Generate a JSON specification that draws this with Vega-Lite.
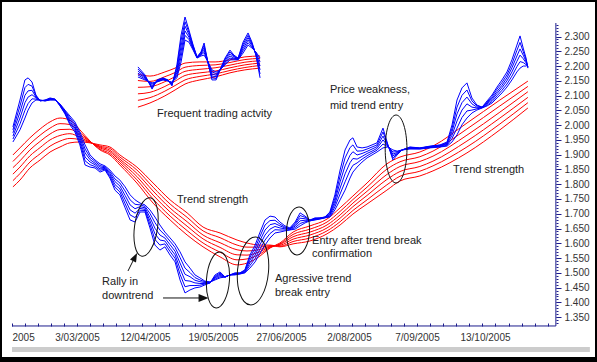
{
"$schema":"https://vega.github.io/schema/vega-lite/v6.json",
"width":593,"height":355,
"autosize":{"type":"none"},
"padding":{"left":2,"top":2,"right":2,"bottom":5},
"background":"#000000",
"config":{"view":{"fill":"#ffffff","stroke":null},"axis":{"labelFont":"Liberation Sans","labelFontSize":10,"labelColor":"#333333","tickColor":"#1c1c8c","grid":false,"domain":false}},
"datasets":{
"blue":[
{"t":1.5,"b1":1.994,"b2":1.984,"b3":1.974,"b4":1.963,"b5":1.953,"b6":1.943},
{"t":4.2,"b1":2.085,"b2":2.065,"b3":2.044,"b4":2.024,"b5":2.004,"b6":1.984},
{"t":6.1,"b1":2.153,"b2":2.127,"b3":2.101,"b4":2.076,"b5":2.050,"b6":2.024},
{"t":7.3,"b1":2.160,"b2":2.138,"b3":2.116,"b4":2.095,"b5":2.073,"b6":2.051},
{"t":8.8,"b1":2.146,"b2":2.132,"b3":2.118,"b4":2.103,"b5":2.089,"b6":2.075},
{"t":10.3,"b1":2.102,"b2":2.099,"b3":2.095,"b4":2.092,"b5":2.088,"b6":2.085},
{"t":11.9,"b1":2.082,"b2":2.082,"b3":2.083,"b4":2.084,"b5":2.084,"b6":2.085},
{"t":13.8,"b1":2.085,"b2":2.084,"b3":2.084,"b4":2.083,"b5":2.082,"b6":2.082},
{"t":15.7,"b1":2.092,"b2":2.090,"b3":2.089,"b4":2.088,"b5":2.086,"b6":2.085},
{"t":17.6,"b1":2.088,"b2":2.088,"b3":2.087,"b4":2.086,"b5":2.086,"b6":2.085},
{"t":19.5,"b1":2.065,"b2":2.066,"b3":2.068,"b4":2.069,"b5":2.070,"b6":2.072},
{"t":21.4,"b1":2.038,"b2":2.040,"b3":2.043,"b4":2.046,"b5":2.048,"b6":2.051},
{"t":23.3,"b1":2.001,"b2":2.007,"b3":2.013,"b4":2.019,"b5":2.025,"b6":2.031},
{"t":25.2,"b1":1.977,"b2":1.984,"b3":1.990,"b4":1.997,"b5":2.004,"b6":2.011},
{"t":27.1,"b1":1.933,"b2":1.942,"b3":1.950,"b4":1.959,"b5":1.968,"b6":1.977},
{"t":29.1,"b1":1.865,"b2":1.879,"b3":1.892,"b4":1.906,"b5":1.919,"b6":1.933},
{"t":31.0,"b1":1.858,"b2":1.866,"b3":1.875,"b4":1.883,"b5":1.891,"b6":1.899},
{"t":32.9,"b1":1.855,"b2":1.860,"b3":1.866,"b4":1.871,"b5":1.877,"b6":1.882},
{"t":34.8,"b1":1.841,"b2":1.847,"b3":1.852,"b4":1.858,"b5":1.863,"b6":1.869},
{"t":36.7,"b1":1.848,"b2":1.851,"b3":1.853,"b4":1.856,"b5":1.859,"b6":1.862},
{"t":38.6,"b1":1.821,"b2":1.826,"b3":1.832,"b4":1.837,"b5":1.843,"b6":1.848},
{"t":40.5,"b1":1.780,"b2":1.790,"b3":1.799,"b4":1.809,"b5":1.818,"b6":1.828},
{"t":42.4,"b1":1.764,"b2":1.774,"b3":1.784,"b4":1.794,"b5":1.804,"b6":1.814},
{"t":44.4,"b1":1.720,"b2":1.734,"b3":1.748,"b4":1.762,"b5":1.777,"b6":1.791},
{"t":46.3,"b1":1.679,"b2":1.696,"b3":1.713,"b4":1.730,"b5":1.747,"b6":1.764},
{"t":48.2,"b1":1.672,"b2":1.687,"b3":1.702,"b4":1.717,"b5":1.732,"b6":1.747},
{"t":50.1,"b1":1.706,"b2":1.712,"b3":1.718,"b4":1.724,"b5":1.730,"b6":1.736},
{"t":52.0,"b1":1.706,"b2":1.711,"b3":1.715,"b4":1.720,"b5":1.725,"b6":1.730},
{"t":53.9,"b1":1.652,"b2":1.664,"b3":1.676,"b4":1.688,"b5":1.701,"b6":1.713},
{"t":55.8,"b1":1.594,"b2":1.613,"b3":1.632,"b4":1.651,"b5":1.670,"b6":1.689},
{"t":57.7,"b1":1.577,"b2":1.594,"b3":1.611,"b4":1.628,"b5":1.645,"b6":1.662},
{"t":59.6,"b1":1.588,"b2":1.598,"b3":1.608,"b4":1.618,"b5":1.628,"b6":1.638},
{"t":61.6,"b1":1.560,"b2":1.572,"b3":1.583,"b4":1.595,"b5":1.607,"b6":1.618},
{"t":63.5,"b1":1.537,"b2":1.549,"b3":1.561,"b4":1.573,"b5":1.586,"b6":1.598},
{"t":65.4,"b1":1.476,"b2":1.495,"b3":1.514,"b4":1.533,"b5":1.552,"b6":1.571},
{"t":67.3,"b1":1.432,"b2":1.453,"b3":1.474,"b4":1.495,"b5":1.516,"b6":1.537},
{"t":69.2,"b1":1.442,"b2":1.457,"b3":1.472,"b4":1.487,"b5":1.501,"b6":1.516},
{"t":71.1,"b1":1.449,"b2":1.457,"b3":1.466,"b4":1.475,"b5":1.484,"b6":1.493},
{"t":73.0,"b1":1.452,"b2":1.458,"b3":1.464,"b4":1.470,"b5":1.476,"b6":1.483},
{"t":74.9,"b1":1.459,"b2":1.462,"b3":1.464,"b4":1.467,"b5":1.470,"b6":1.472},
{"t":76.9,"b1":1.466,"b2":1.466,"b3":1.467,"b4":1.468,"b5":1.468,"b6":1.469},
{"t":78.8,"b1":1.493,"b2":1.489,"b3":1.486,"b4":1.483,"b5":1.479,"b6":1.476},
{"t":80.7,"b1":1.503,"b2":1.499,"b3":1.495,"b4":1.491,"b5":1.487,"b6":1.483},
{"t":82.6,"b1":1.486,"b2":1.486,"b3":1.486,"b4":1.486,"b5":1.486,"b6":1.486},
{"t":84.5,"b1":1.493,"b2":1.493,"b3":1.493,"b4":1.493,"b5":1.493,"b6":1.493},
{"t":86.4,"b1":1.500,"b2":1.498,"b3":1.497,"b4":1.495,"b5":1.494,"b6":1.493},
{"t":88.3,"b1":1.500,"b2":1.499,"b3":1.498,"b4":1.498,"b5":1.497,"b6":1.496},
{"t":90.2,"b1":1.510,"b2":1.508,"b3":1.506,"b4":1.503,"b5":1.501,"b6":1.500},
{"t":92.1,"b1":1.560,"b2":1.552,"b3":1.543,"b4":1.534,"b5":1.525,"b6":1.516},
{"t":94.1,"b1":1.594,"b2":1.583,"b3":1.571,"b4":1.560,"b5":1.548,"b6":1.537},
{"t":96.0,"b1":1.638,"b2":1.624,"b3":1.610,"b4":1.596,"b5":1.581,"b6":1.567},
{"t":97.9,"b1":1.679,"b2":1.662,"b3":1.645,"b4":1.628,"b5":1.611,"b6":1.594},
{"t":99.8,"b1":1.692,"b2":1.677,"b3":1.663,"b4":1.648,"b5":1.633,"b6":1.618},
{"t":101.7,"b1":1.689,"b2":1.678,"b3":1.667,"b4":1.657,"b5":1.646,"b6":1.635},
{"t":103.6,"b1":1.672,"b2":1.665,"b3":1.659,"b4":1.652,"b5":1.645,"b6":1.638},
{"t":105.5,"b1":1.659,"b2":1.655,"b3":1.652,"b4":1.649,"b5":1.645,"b6":1.642},
{"t":107.4,"b1":1.652,"b2":1.650,"b3":1.649,"b4":1.648,"b5":1.646,"b6":1.645},
{"t":109.4,"b1":1.672,"b2":1.667,"b3":1.663,"b4":1.658,"b5":1.653,"b6":1.648},
{"t":111.3,"b1":1.703,"b2":1.694,"b3":1.685,"b4":1.676,"b5":1.667,"b6":1.659},
{"t":113.2,"b1":1.692,"b2":1.688,"b3":1.683,"b4":1.678,"b5":1.673,"b6":1.669},
{"t":115.1,"b1":1.679,"b2":1.678,"b3":1.678,"b4":1.677,"b5":1.676,"b6":1.676},
{"t":117.0,"b1":1.686,"b2":1.684,"b3":1.683,"b4":1.682,"b5":1.680,"b6":1.679},
{"t":118.9,"b1":1.686,"b2":1.685,"b3":1.685,"b4":1.684,"b5":1.683,"b6":1.682},
{"t":120.8,"b1":1.689,"b2":1.689,"b3":1.688,"b4":1.687,"b5":1.687,"b6":1.686},
{"t":122.7,"b1":1.706,"b2":1.703,"b3":1.699,"b4":1.696,"b5":1.692,"b6":1.689},
{"t":124.6,"b1":1.764,"b2":1.753,"b3":1.743,"b4":1.733,"b5":1.723,"b6":1.713},
{"t":126.6,"b1":1.848,"b2":1.828,"b3":1.808,"b4":1.787,"b5":1.767,"b6":1.747},
{"t":128.5,"b1":1.916,"b2":1.889,"b3":1.862,"b4":1.835,"b5":1.808,"b6":1.780},
{"t":130.4,"b1":1.950,"b2":1.924,"b3":1.898,"b4":1.873,"b5":1.847,"b6":1.821},
{"t":131.5,"b1":1.957,"b2":1.933,"b3":1.910,"b4":1.887,"b5":1.864,"b6":1.841},
{"t":133.1,"b1":1.926,"b2":1.912,"b3":1.899,"b4":1.885,"b5":1.872,"b6":1.858},
{"t":135.0,"b1":1.923,"b2":1.913,"b3":1.904,"b4":1.894,"b5":1.885,"b6":1.875},
{"t":136.9,"b1":1.926,"b2":1.919,"b3":1.911,"b4":1.904,"b5":1.896,"b6":1.889},
{"t":138.8,"b1":1.933,"b2":1.926,"b3":1.919,"b4":1.912,"b5":1.906,"b6":1.899},
{"t":140.7,"b1":1.940,"b2":1.933,"b3":1.927,"b4":1.921,"b5":1.915,"b6":1.909},
{"t":143.0,"b1":1.990,"b2":1.977,"b3":1.963,"b4":1.950,"b5":1.936,"b6":1.923},
{"t":144.9,"b1":1.933,"b2":1.932,"b3":1.930,"b4":1.929,"b5":1.927,"b6":1.926},
{"t":146.8,"b1":1.882,"b2":1.889,"b3":1.896,"b4":1.902,"b5":1.909,"b6":1.916},
{"t":148.4,"b1":1.899,"b2":1.902,"b3":1.904,"b4":1.907,"b5":1.910,"b6":1.912},
{"t":150.3,"b1":1.916,"b2":1.916,"b3":1.916,"b4":1.916,"b5":1.916,"b6":1.916},
{"t":153.3,"b1":1.926,"b2":1.925,"b3":1.923,"b4":1.922,"b5":1.921,"b6":1.919},
{"t":157.1,"b1":1.923,"b2":1.922,"b3":1.922,"b4":1.921,"b5":1.920,"b6":1.919},
{"t":161.0,"b1":1.929,"b2":1.928,"b3":1.927,"b4":1.925,"b5":1.924,"b6":1.923},
{"t":164.8,"b1":1.933,"b2":1.932,"b3":1.930,"b4":1.929,"b5":1.927,"b6":1.926},
{"t":167.5,"b1":1.943,"b2":1.940,"b3":1.938,"b4":1.935,"b5":1.932,"b6":1.929},
{"t":169.4,"b1":2.001,"b2":1.989,"b3":1.978,"b4":1.966,"b5":1.955,"b6":1.943},
{"t":171.3,"b1":2.085,"b2":2.061,"b3":2.038,"b4":2.014,"b5":1.990,"b6":1.967},
{"t":173.2,"b1":2.126,"b2":2.101,"b3":2.076,"b4":2.051,"b5":2.026,"b6":2.001},
{"t":175.1,"b1":2.143,"b2":2.119,"b3":2.095,"b4":2.072,"b5":2.048,"b6":2.024},
{"t":177.0,"b1":2.092,"b2":2.082,"b3":2.072,"b4":2.061,"b5":2.051,"b6":2.041},
{"t":178.9,"b1":2.068,"b2":2.065,"b3":2.061,"b4":2.058,"b5":2.055,"b6":2.051},
{"t":180.9,"b1":2.061,"b2":2.061,"b3":2.060,"b4":2.059,"b5":2.059,"b6":2.058},
{"t":182.8,"b1":2.082,"b2":2.078,"b3":2.075,"b4":2.072,"b5":2.068,"b6":2.065},
{"t":184.7,"b1":2.102,"b2":2.097,"b3":2.091,"b4":2.086,"b5":2.080,"b6":2.075},
{"t":186.6,"b1":2.129,"b2":2.122,"b3":2.114,"b4":2.107,"b5":2.099,"b6":2.092},
{"t":188.5,"b1":2.153,"b2":2.144,"b3":2.135,"b4":2.127,"b5":2.118,"b6":2.109},
{"t":190.4,"b1":2.180,"b2":2.170,"b3":2.160,"b4":2.150,"b5":2.139,"b6":2.129},
{"t":192.3,"b1":2.221,"b2":2.207,"b3":2.194,"b4":2.180,"b5":2.166,"b6":2.153},
{"t":194.2,"b1":2.271,"b2":2.253,"b3":2.234,"b4":2.216,"b5":2.198,"b6":2.180},
{"t":195.4,"b1":2.302,"b2":2.280,"b3":2.258,"b4":2.237,"b5":2.215,"b6":2.193},
{"t":196.6,"b1":2.261,"b2":2.249,"b3":2.237,"b4":2.225,"b5":2.212,"b6":2.200},
{"t":197.7,"b1":2.227,"b2":2.222,"b3":2.216,"b4":2.211,"b5":2.205,"b6":2.200},
{"t":198.4,"b1":2.193,"b2":2.195,"b3":2.197,"b4":2.199,"b5":2.201,"b6":2.204}
],
"red":[
{"t":1.5,"r1":1.899,"r2":1.877,"r3":1.856,"r4":1.834,"r5":1.812,"r6":1.791},
{"t":4.2,"r1":1.923,"r2":1.901,"r3":1.879,"r4":1.858,"r5":1.836,"r6":1.814},
{"t":8.0,"r1":1.957,"r2":1.936,"r3":1.916,"r4":1.896,"r5":1.875,"r6":1.855},
{"t":11.9,"r1":1.987,"r2":1.966,"r3":1.945,"r4":1.924,"r5":1.903,"r6":1.882},
{"t":15.7,"r1":2.011,"r2":1.990,"r3":1.970,"r4":1.950,"r5":1.929,"r6":1.909},
{"t":19.5,"r1":2.024,"r2":2.005,"r3":1.985,"r4":1.965,"r5":1.946,"r6":1.926},
{"t":23.3,"r1":2.017,"r2":2.002,"r3":1.986,"r4":1.971,"r5":1.955,"r6":1.940},
{"t":27.1,"r1":1.984,"r2":1.975,"r3":1.967,"r4":1.959,"r5":1.951,"r6":1.943},
{"t":31.0,"r1":1.946,"r2":1.945,"r3":1.944,"r4":1.942,"r5":1.941,"r6":1.940},
{"t":34.8,"r1":1.916,"r2":1.919,"r3":1.923,"r4":1.926,"r5":1.929,"r6":1.933},
{"t":38.6,"r1":1.899,"r2":1.904,"r3":1.910,"r4":1.915,"r5":1.921,"r6":1.926},
{"t":42.4,"r1":1.865,"r2":1.872,"r3":1.879,"r4":1.885,"r5":1.892,"r6":1.899},
{"t":48.9,"r1":1.804,"r2":1.815,"r3":1.826,"r4":1.837,"r5":1.848,"r6":1.858},
{"t":55.1,"r1":1.736,"r2":1.750,"r3":1.763,"r4":1.777,"r5":1.790,"r6":1.804},
{"t":61.6,"r1":1.679,"r2":1.692,"r3":1.706,"r4":1.719,"r5":1.733,"r6":1.747},
{"t":68.1,"r1":1.628,"r2":1.643,"r3":1.658,"r4":1.673,"r5":1.688,"r6":1.703},
{"t":74.2,"r1":1.588,"r2":1.601,"r3":1.615,"r4":1.628,"r5":1.642,"r6":1.655},
{"t":80.7,"r1":1.554,"r2":1.570,"r3":1.586,"r4":1.602,"r5":1.619,"r6":1.635},
{"t":87.2,"r1":1.527,"r2":1.544,"r3":1.561,"r4":1.578,"r5":1.594,"r6":1.611},
{"t":91.0,"r1":1.533,"r2":1.547,"r3":1.560,"r4":1.574,"r5":1.587,"r6":1.601},
{"t":96.0,"r1":1.557,"r2":1.564,"r3":1.572,"r4":1.579,"r5":1.587,"r6":1.594},
{"t":99.8,"r1":1.584,"r2":1.586,"r3":1.588,"r4":1.590,"r5":1.592,"r6":1.594},
{"t":103.6,"r1":1.601,"r2":1.598,"r3":1.596,"r4":1.593,"r5":1.590,"r6":1.588},
{"t":108.6,"r1":1.638,"r2":1.630,"r3":1.622,"r4":1.614,"r5":1.606,"r6":1.598},
{"t":115.1,"r1":1.659,"r2":1.648,"r3":1.638,"r4":1.628,"r5":1.618,"r6":1.608},
{"t":121.6,"r1":1.682,"r2":1.672,"r3":1.662,"r4":1.652,"r5":1.642,"r6":1.632},
{"t":126.6,"r1":1.720,"r2":1.708,"r3":1.696,"r4":1.685,"r5":1.673,"r6":1.662},
{"t":131.5,"r1":1.760,"r2":1.748,"r3":1.736,"r4":1.724,"r5":1.711,"r6":1.699},
{"t":136.9,"r1":1.804,"r2":1.790,"r3":1.776,"r4":1.762,"r5":1.747,"r6":1.733},
{"t":144.5,"r1":1.869,"r2":1.851,"r3":1.833,"r4":1.816,"r5":1.798,"r6":1.780},
{"t":149.5,"r1":1.892,"r2":1.876,"r3":1.860,"r4":1.843,"r5":1.827,"r6":1.811},
{"t":157.1,"r1":1.909,"r2":1.893,"r3":1.877,"r4":1.860,"r5":1.844,"r6":1.828},
{"t":162.1,"r1":1.929,"r2":1.912,"r3":1.895,"r4":1.878,"r5":1.862,"r6":1.845},
{"t":175.1,"r1":2.007,"r2":1.987,"r3":1.966,"r4":1.946,"r5":1.926,"r6":1.906},
{"t":187.7,"r1":2.085,"r2":2.065,"r3":2.044,"r4":2.024,"r5":2.004,"r6":1.984},
{"t":198.4,"r1":2.149,"r2":2.131,"r3":2.113,"r4":2.094,"r5":2.076,"r6":2.058}
],
"iblue":[
{"t":49.3,"b1":2.197,"b2":2.190,"b3":2.183,"b4":2.176,"b5":2.170,"b6":2.163},
{"t":52.0,"b1":2.170,"b2":2.166,"b3":2.163,"b4":2.160,"b5":2.156,"b6":2.153},
{"t":54.7,"b1":2.122,"b2":2.126,"b3":2.130,"b4":2.134,"b5":2.139,"b6":2.143},
{"t":56.6,"b1":2.153,"b2":2.151,"b3":2.150,"b4":2.149,"b5":2.147,"b6":2.146},
{"t":58.9,"b1":2.160,"b2":2.158,"b3":2.157,"b4":2.155,"b5":2.154,"b6":2.153},
{"t":60.8,"b1":2.153,"b2":2.152,"b3":2.151,"b4":2.151,"b5":2.150,"b6":2.149},
{"t":62.3,"b1":2.133,"b2":2.135,"b3":2.138,"b4":2.141,"b5":2.143,"b6":2.146},
{"t":64.2,"b1":2.204,"b2":2.195,"b3":2.186,"b4":2.177,"b5":2.168,"b6":2.160},
{"t":65.8,"b1":2.305,"b2":2.287,"b3":2.268,"b4":2.250,"b5":2.232,"b6":2.214},
{"t":67.3,"b1":2.366,"b2":2.350,"b3":2.335,"b4":2.319,"b5":2.304,"b6":2.288},
{"t":68.8,"b1":2.322,"b2":2.314,"b3":2.306,"b4":2.298,"b5":2.290,"b6":2.281},
{"t":70.4,"b1":2.271,"b2":2.268,"b3":2.265,"b4":2.261,"b5":2.258,"b6":2.254},
{"t":71.9,"b1":2.231,"b2":2.230,"b3":2.229,"b4":2.229,"b5":2.228,"b6":2.227},
{"t":73.4,"b1":2.248,"b2":2.245,"b3":2.242,"b4":2.240,"b5":2.237,"b6":2.234},
{"t":74.6,"b1":2.278,"b2":2.270,"b3":2.262,"b4":2.254,"b5":2.246,"b6":2.237},
{"t":76.1,"b1":2.210,"b2":2.211,"b3":2.212,"b4":2.212,"b5":2.213,"b6":2.214},
{"t":77.6,"b1":2.153,"b2":2.160,"b3":2.166,"b4":2.173,"b5":2.180,"b6":2.187},
{"t":79.2,"b1":2.153,"b2":2.158,"b3":2.164,"b4":2.169,"b5":2.175,"b6":2.180},
{"t":80.7,"b1":2.187,"b2":2.187,"b3":2.187,"b4":2.187,"b5":2.187,"b6":2.187},
{"t":82.6,"b1":2.227,"b2":2.223,"b3":2.218,"b4":2.213,"b5":2.208,"b6":2.204},
{"t":84.5,"b1":2.254,"b2":2.248,"b3":2.241,"b4":2.234,"b5":2.227,"b6":2.221},
{"t":86.0,"b1":2.237,"b2":2.234,"b3":2.231,"b4":2.227,"b5":2.224,"b6":2.221},
{"t":87.6,"b1":2.227,"b2":2.226,"b3":2.225,"b4":2.223,"b5":2.222,"b6":2.221},
{"t":89.5,"b1":2.281,"b2":2.274,"b3":2.267,"b4":2.259,"b5":2.252,"b6":2.244},
{"t":91.4,"b1":2.312,"b2":2.304,"b3":2.296,"b4":2.288,"b5":2.279,"b6":2.271},
{"t":92.9,"b1":2.281,"b2":2.277,"b3":2.273,"b4":2.269,"b5":2.265,"b6":2.261},
{"t":94.4,"b1":2.237,"b2":2.239,"b3":2.241,"b4":2.243,"b5":2.246,"b6":2.248},
{"t":96.0,"b1":2.160,"b2":2.173,"b3":2.187,"b4":2.200,"b5":2.214,"b6":2.227}
],
"ired":[
{"t":49.3,"r1":2.173,"r2":2.151,"r3":2.128,"r4":2.106,"r5":2.084,"r6":2.061},
{"t":53.9,"r1":2.166,"r2":2.148,"r3":2.130,"r4":2.111,"r5":2.093,"r6":2.075},
{"t":59.6,"r1":2.180,"r2":2.164,"r3":2.147,"r4":2.131,"r5":2.115,"r6":2.099},
{"t":63.5,"r1":2.193,"r2":2.178,"r3":2.164,"r4":2.149,"r5":2.134,"r6":2.119},
{"t":67.3,"r1":2.210,"r2":2.196,"r3":2.182,"r4":2.168,"r5":2.153,"r6":2.139},
{"t":73.0,"r1":2.214,"r2":2.202,"r3":2.189,"r4":2.177,"r5":2.165,"r6":2.153},
{"t":78.8,"r1":2.214,"r2":2.204,"r3":2.194,"r4":2.183,"r5":2.173,"r6":2.163},
{"t":84.5,"r1":2.221,"r2":2.212,"r3":2.203,"r4":2.194,"r5":2.185,"r6":2.177},
{"t":90.2,"r1":2.231,"r2":2.222,"r3":2.213,"r4":2.204,"r5":2.195,"r6":2.187},
{"t":96.0,"r1":2.234,"r2":2.226,"r3":2.218,"r4":2.210,"r5":2.202,"r6":2.193}
],
"notes":[
{"t":56.6,"v":2.0377,"label":"Frequent trading actvity"},
{"t":64.2,"v":1.7466,"label":"Trend strength"},
{"t":35.6,"v":1.4690,"label":"Rally in"},
{"t":35.6,"v":1.4216,"label":"downtrend"},
{"t":101.7,"v":1.4792,"label":"Agressive trend"},
{"t":101.7,"v":1.4317,"label":"break entry"},
{"t":115.9,"v":1.6078,"label":"Entry after trend break"},
{"t":115.9,"v":1.5638,"label":"confirmation"},
{"t":122.7,"v":2.1189,"label":"Price weakness,"},
{"t":122.7,"v":2.0648,"label":"mid trend entry"},
{"t":169.8,"v":1.8481,"label":"Trend strength"}
]
},
"resolve":{"axis":{"x":"independent","y":"independent"}},
"layer":[
{"data":{"values":[{}]},"mark":{"type":"rect","color":"#cccccc"},
 "encoding":{"x":{"datum":1.15,"type":"quantitative","scale":{"domain":[-2.676,224.06],"nice":false,"zero":false},"axis":null},"x2":{"datum":222.1},
 "y":{"datum":1.249,"type":"quantitative","scale":{"domain":[1.2151,2.4168],"nice":false,"zero":false},"axis":null},"y2":{"datum":1.2321}}},
{"data":{"values":[{}]},"mark":{"type":"rule","color":"#1c1c8c","strokeWidth":1},
 "encoding":{"x":{"datum":1.15,"type":"quantitative","scale":{"domain":[-2.676,224.06],"nice":false,"zero":false},"axis":null},"x2":{"datum":209.1},
 "y":{"datum":1.3201,"type":"quantitative","scale":{"domain":[1.2151,2.4168],"nice":false,"zero":false},"axis":null}}},
{"data":{"values":[{}]},"mark":{"type":"rule","color":"#1c1c8c","strokeWidth":1},
 "encoding":{"x":{"datum":209.1,"type":"quantitative","scale":{"domain":[-2.676,224.06],"nice":false,"zero":false},"axis":null},
 "y":{"datum":2.3457,"type":"quantitative","scale":{"domain":[1.2151,2.4168],"nice":false,"zero":false},"axis":null},"y2":{"datum":1.3201}}},
{"data":{"name":"red"},"transform":[{"fold":["r1","r2","r3","r4","r5","r6"],"as":["s","v"]}],
 "mark":{"type":"line","color":"#ff0000","strokeWidth":1,"interpolate":"monotone"},
 "encoding":{
 "x":{"field":"t","type":"quantitative","scale":{"domain":[-2.676,224.06],"nice":false,"zero":false},
  "axis":{"orient":"bottom","offset":-31,"values":[1,6,11,16,21,26,31,36,41,46,51,56,61,66,71,76,81,86,91,96,101,106,111,116,121,126,131,136,141,146,151,156,161,166,171,176,181,186,191,196,201,206],"labels":false,"tickSize":-3,"title":null}},
 "y":{"field":"v","type":"quantitative","scale":{"domain":[1.2151,2.4168],"nice":false,"zero":false},
  "axis":{"orient":"right","offset":-39,"values":[1.33,1.34,1.35,1.36,1.37,1.38,1.39,1.4,1.41,1.42,1.43,1.44,1.45,1.46,1.47,1.48,1.49,1.5,1.51,1.52,1.53,1.54,1.55,1.56,1.57,1.58,1.59,1.6,1.61,1.62,1.63,1.64,1.65,1.66,1.67,1.68,1.69,1.7,1.71,1.72,1.73,1.74,1.75,1.76,1.77,1.78,1.79,1.8,1.81,1.82,1.83,1.84,1.85,1.86,1.87,1.88,1.89,1.9,1.91,1.92,1.93,1.94,1.95,1.96,1.97,1.98,1.99,2,2.01,2.02,2.03,2.04,2.05,2.06,2.07,2.08,2.09,2.1,2.11,2.12,2.13,2.14,2.15,2.16,2.17,2.18,2.19,2.2,2.21,2.22,2.23,2.24,2.25,2.26,2.27,2.28,2.29,2.3,2.31,2.32,2.33,2.34],"labels":false,"tickSize":2,"title":null}},
 "detail":{"field":"s","type":"nominal"}}},
{"data":{"name":"blue"},"transform":[{"fold":["b1","b2","b3","b4","b5","b6"],"as":["s","v"]}],
 "mark":{"type":"line","color":"#0000ff","strokeWidth":1},
 "encoding":{
 "x":{"field":"t","type":"quantitative","scale":{"domain":[-2.676,224.06],"nice":false,"zero":false},
  "axis":{"orient":"bottom","offset":-31,"values":[0,26,52,78,104,130,156,182],"ticks":false,"labelPadding":6,"labelFlush":false,"labelOverlap":false,"labelBound":false,"title":null,
   "labelExpr":"datum.value == 0 ? '2005' : datum.value == 26 ? '3/03/2005' : datum.value == 52 ? '12/04/2005' : datum.value == 78 ? '19/05/2005' : datum.value == 104 ? '27/06/2005' : datum.value == 130 ? '2/08/2005' : datum.value == 156 ? '7/09/2005' : '13/10/2005'",
   "labelAlign":{"condition":{"test":"datum.value == 0","value":"left"},"value":"center"},
   "labelOffset":{"condition":{"test":"datum.value == 0","value":3},"value":0}}},
 "y":{"field":"v","type":"quantitative","scale":{"domain":[1.2151,2.4168],"nice":false,"zero":false},
  "axis":{"orient":"right","offset":-39,"values":[1.35,1.4,1.45,1.5,1.55,1.6,1.65,1.7,1.75,1.8,1.85,1.9,1.95,2,2.05,2.1,2.15,2.2,2.25,2.3],"format":".3f","tickSize":5,"labelPadding":3,"labelFlush":false,"labelOverlap":false,"title":null}},
 "detail":{"field":"s","type":"nominal"}}},
{"data":{"name":"ired"},"transform":[{"fold":["r1","r2","r3","r4","r5","r6"],"as":["s","v"]}],
 "mark":{"type":"line","color":"#ff0000","strokeWidth":1,"interpolate":"monotone"},
 "encoding":{"x":{"field":"t","type":"quantitative","scale":{"domain":[-2.676,224.06],"nice":false,"zero":false},"axis":null},
 "y":{"field":"v","type":"quantitative","scale":{"domain":[1.2151,2.4168],"nice":false,"zero":false},"axis":null},
 "detail":{"field":"s","type":"nominal"}}},
{"data":{"name":"iblue"},"transform":[{"fold":["b1","b2","b3","b4","b5","b6"],"as":["s","v"]}],
 "mark":{"type":"line","color":"#0000ff","strokeWidth":1},
 "encoding":{"x":{"field":"t","type":"quantitative","scale":{"domain":[-2.676,224.06],"nice":false,"zero":false},"axis":null},
 "y":{"field":"v","type":"quantitative","scale":{"domain":[1.2151,2.4168],"nice":false,"zero":false},"axis":null},
 "detail":{"field":"s","type":"nominal"}}},
{"data":{"values":[{"t":52.4,"v":1.6552}]},
 "mark":{"type":"point","shape":"M0,-1C0.215,-1 0.39,-0.552 0.39,0C0.39,0.552 0.215,1 0,1C-0.215,1 -0.39,0.552 -0.39,0C-0.39,-0.552 -0.215,-1 0,-1Z","size":3481,"angle":8,"filled":false,"color":"#111111","strokeWidth":1,"opacity":1},
 "encoding":{"x":{"field":"t","type":"quantitative","scale":{"domain":[-2.676,224.06],"nice":false,"zero":false},"axis":null},"y":{"field":"v","type":"quantitative","scale":{"domain":[1.2151,2.4168],"nice":false,"zero":false},"axis":null}}},
{"data":{"values":[{"t":79.9,"v":1.4758}]},
 "mark":{"type":"point","shape":"M0,-1C0.226,-1 0.41,-0.552 0.41,0C0.41,0.552 0.226,1 0,1C-0.226,1 -0.41,0.552 -0.41,0C-0.41,-0.552 -0.226,-1 0,-1Z","size":3136,"angle":4,"filled":false,"color":"#111111","strokeWidth":1,"opacity":1},
 "encoding":{"x":{"field":"t","type":"quantitative","scale":{"domain":[-2.676,224.06],"nice":false,"zero":false},"axis":null},"y":{"field":"v","type":"quantitative","scale":{"domain":[1.2151,2.4168],"nice":false,"zero":false},"axis":null}}},
{"data":{"values":[{"t":93.3,"v":1.5063}]},
 "mark":{"type":"point","shape":"M0,-1C0.252,-1 0.456,-0.552 0.456,0C0.456,0.552 0.252,1 0,1C-0.252,1 -0.456,0.552 -0.456,0C-0.456,-0.552 -0.252,-1 0,-1Z","size":4624,"angle":5,"filled":false,"color":"#111111","strokeWidth":1,"opacity":1},
 "encoding":{"x":{"field":"t","type":"quantitative","scale":{"domain":[-2.676,224.06],"nice":false,"zero":false},"axis":null},"y":{"field":"v","type":"quantitative","scale":{"domain":[1.2151,2.4168],"nice":false,"zero":false},"axis":null}}},
{"data":{"values":[{"t":110.5,"v":1.6417}]},
 "mark":{"type":"point","shape":"M0,-1C0.265,-1 0.48,-0.552 0.48,0C0.48,0.552 0.265,1 0,1C-0.265,1 -0.48,0.552 -0.48,0C-0.48,-0.552 -0.265,-1 0,-1Z","size":2304,"angle":3,"filled":false,"color":"#111111","strokeWidth":1,"opacity":1},
 "encoding":{"x":{"field":"t","type":"quantitative","scale":{"domain":[-2.676,224.06],"nice":false,"zero":false},"axis":null},"y":{"field":"v","type":"quantitative","scale":{"domain":[1.2151,2.4168],"nice":false,"zero":false},"axis":null}}},
{"data":{"values":[{"t":148.0,"v":1.9192}]},
 "mark":{"type":"point","shape":"M0,-1C0.177,-1 0.32,-0.552 0.32,0C0.32,0.552 0.177,1 0,1C-0.177,1 -0.32,0.552 -0.32,0C-0.32,-0.552 -0.177,-1 0,-1Z","size":4624,"angle":0,"filled":false,"color":"#111111","strokeWidth":1,"opacity":1},
 "encoding":{"x":{"field":"t","type":"quantitative","scale":{"domain":[-2.676,224.06],"nice":false,"zero":false},"axis":null},"y":{"field":"v","type":"quantitative","scale":{"domain":[1.2151,2.4168],"nice":false,"zero":false},"axis":null}}},
{"data":{"values":[{}]},"mark":{"type":"rule","color":"#111111","strokeWidth":1},
 "encoding":{"x":{"datum":45.5,"type":"quantitative","scale":{"domain":[-2.676,224.06],"nice":false,"zero":false},"axis":null},"x2":{"datum":47.9},
 "y":{"datum":1.5063,"type":"quantitative","scale":{"domain":[1.2151,2.4168],"nice":false,"zero":false},"axis":null},"y2":{"datum":1.549}}},
{"data":{"values":[{}]},"mark":{"type":"rule","color":"#111111","strokeWidth":1},
 "encoding":{"x":{"datum":58.9,"type":"quantitative","scale":{"domain":[-2.676,224.06],"nice":false,"zero":false},"axis":null},"x2":{"datum":73.4},
 "y":{"datum":1.4149,"type":"quantitative","scale":{"domain":[1.2151,2.4168],"nice":false,"zero":false},"axis":null}}},
{"data":{"values":[{}]},"mark":{"type":"point","shape":"M0,-1L0.75,1L-0.75,1Z","size":81,"angle":27,"filled":true,"color":"#111111","opacity":1},
 "encoding":{"x":{"datum":48.2,"type":"quantitative","scale":{"domain":[-2.676,224.06],"nice":false,"zero":false},"axis":null},
 "y":{"datum":1.5537,"type":"quantitative","scale":{"domain":[1.2151,2.4168],"nice":false,"zero":false},"axis":null}}},
{"data":{"values":[{}]},"mark":{"type":"point","shape":"M0,-1L0.8,1L-0.8,1Z","size":100,"angle":90,"filled":true,"color":"#111111","opacity":1},
 "encoding":{"x":{"datum":74.4,"type":"quantitative","scale":{"domain":[-2.676,224.06],"nice":false,"zero":false},"axis":null},
 "y":{"datum":1.4149,"type":"quantitative","scale":{"domain":[1.2151,2.4168],"nice":false,"zero":false},"axis":null}}},
{"data":{"name":"notes"},
 "mark":{"type":"text","align":"left","baseline":"middle","font":"Liberation Sans","fontSize":11,"color":"#222222"},
 "encoding":{"x":{"field":"t","type":"quantitative","scale":{"domain":[-2.676,224.06],"nice":false,"zero":false},"axis":null},
 "y":{"field":"v","type":"quantitative","scale":{"domain":[1.2151,2.4168],"nice":false,"zero":false},"axis":null},
 "text":{"field":"label","type":"nominal"}}}
]
}
